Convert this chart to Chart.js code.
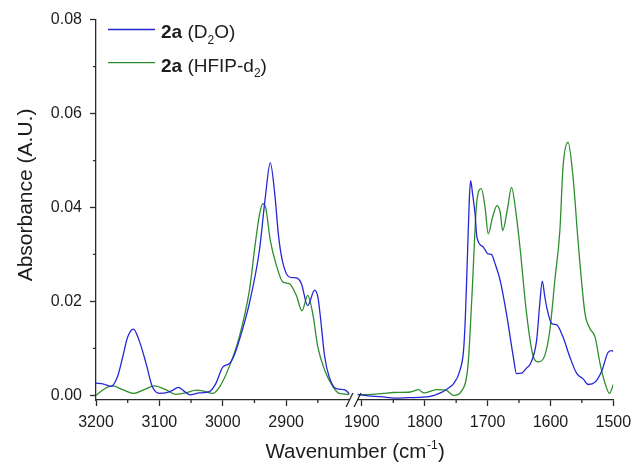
<!DOCTYPE html>
<html>
<head>
<meta charset="utf-8">
<script src="https://cdn.jsdelivr.net/npm/chart.js@4.4.1/dist/chart.umd.min.js"></script>
<style>
  html, body { margin: 0; padding: 0; background: #ffffff; }
  #wrap { width: 634px; height: 466px; }
</style>
</head>
<body>
<div id="wrap"><canvas id="spectrum" width="634" height="466"></canvas></div>
<script>
// IR absorbance of 2a in two solvents, shown over two wavenumber windows (cm-1).
// C–H stretch window, 3200–2800 cm-1
const hiWnD2O  = [3200, 3188, 3176, 3166, 3158, 3150, 3141, 3132, 3121, 3111, 3100, 3090, 3080, 3070, 3062, 3052, 3037, 3021, 3011, 3000, 2990, 2982, 2974, 2958, 2942, 2933, 2925, 2918, 2912, 2906, 2895, 2884, 2876, 2866, 2855, 2850, 2847, 2839, 2832, 2821, 2808, 2800];
const hiAbsD2O = [0.0026, 0.0024, 0.0019, 0.0040, 0.0081, 0.0124, 0.0141, 0.0117, 0.0068, 0.0018, 0.0004, 0.0005, 0.0010, 0.0017, 0.0010, 0.0001, 0.0005, 0.0008, 0.0025, 0.0060, 0.0067, 0.0085, 0.0117, 0.0196, 0.0310, 0.0420, 0.0495, 0.0430, 0.0340, 0.0287, 0.0252, 0.0250, 0.0238, 0.0191, 0.0224, 0.0210, 0.0180, 0.0081, 0.0039, 0.0014, 0.0012, 0.0003];
const hiWnHFIP  = [3200, 3185, 3174, 3158, 3140, 3124, 3108, 3090, 3074, 3058, 3042, 3030, 3016, 3005, 2990, 2974, 2958, 2948, 2942, 2937, 2932, 2925, 2916, 2905, 2895, 2884, 2875, 2866, 2858, 2850, 2839, 2826, 2816, 2800];
const hiAbsHFIP = [0.0000, 0.0015, 0.0020, 0.0012, 0.0004, 0.0012, 0.0020, 0.0012, 0.0002, 0.0005, 0.0011, 0.0009, 0.0004, 0.0018, 0.0060, 0.0124, 0.0223, 0.0330, 0.0385, 0.0408, 0.0398, 0.0330, 0.0280, 0.0241, 0.0238, 0.0213, 0.0180, 0.0213, 0.0174, 0.0103, 0.0053, 0.0018, 0.0004, 0.0002];

// Carbonyl / amide window, 1907–1500 cm-1
const loWnD2O  = [1907, 1890, 1870, 1847, 1825, 1802, 1785, 1775, 1765, 1754, 1744, 1738, 1735, 1732, 1729, 1727, 1724, 1720, 1717, 1707, 1699, 1694, 1688, 1680, 1670, 1659, 1654, 1646, 1638, 1632, 1622, 1617, 1613, 1609, 1606, 1598, 1590, 1580, 1569, 1558, 1548, 1540, 1529, 1518, 1508, 1502, 1500];
const loAbsD2O = [0.0002, -0.0001, -0.0003, -0.0006, -0.0005, -0.0004, 0.0000, 0.0005, 0.0013, 0.0025, 0.0053, 0.0100, 0.0180, 0.0300, 0.0420, 0.0457, 0.0430, 0.0387, 0.0337, 0.0316, 0.0301, 0.0300, 0.0280, 0.0245, 0.0174, 0.0081, 0.0046, 0.0047, 0.0058, 0.0067, 0.0117, 0.0195, 0.0243, 0.0210, 0.0188, 0.0153, 0.0150, 0.0124, 0.0081, 0.0046, 0.0035, 0.0023, 0.0028, 0.0053, 0.0092, 0.0095, 0.0093];
const loWnHFIP  = [1907, 1885, 1866, 1850, 1823, 1810, 1802, 1781, 1765, 1754, 1741, 1731, 1725, 1717, 1710, 1704, 1699, 1692, 1685, 1680, 1676, 1668, 1662, 1654, 1648, 1638, 1627, 1619, 1609, 1601, 1593, 1585, 1580, 1572, 1564, 1557, 1553, 1545, 1537, 1529, 1521, 1513, 1506, 1500];
const loAbsHFIP = [0.0001, 0.0002, 0.0004, 0.0006, 0.0007, 0.0012, 0.0005, 0.0012, 0.0010, 0.0000, 0.0010, 0.0067, 0.0209, 0.0415, 0.0440, 0.0400, 0.0344, 0.0380, 0.0404, 0.0390, 0.0351, 0.0400, 0.0443, 0.0380, 0.0309, 0.0174, 0.0081, 0.0071, 0.0085, 0.0138, 0.0245, 0.0351, 0.0486, 0.0539, 0.0464, 0.0344, 0.0280, 0.0174, 0.0142, 0.0124, 0.0067, 0.0025, 0.0004, 0.0023];

// Axis ticks
const yTickValues   = [0, 0.02, 0.04, 0.06, 0.08];
const yMinorValues  = [0.01, 0.03, 0.05, 0.07];
const hiTickValues  = [3200, 3100, 3000, 2900];
const hiMinorValues = [3150, 3050, 2950, 2850];
const loTickValues  = [1900, 1800, 1700, 1600, 1500];
const loMinorValues = [1850, 1750, 1650, 1550];

// Legend entries as text runs (bold compound number, subscripted isotopes)
const legendD2O  = [{ t: '2a', bold: true }, { t: ' (D' }, { t: '2', sub: true }, { t: 'O)' }];
const legendHFIP = [{ t: '2a', bold: true }, { t: ' (HFIP-d' }, { t: '2', sub: true }, { t: ')' }];

const xTitle = 'Wavenumber (cm';
const xTitleSup = '-1';
const yTitle = 'Absorbance (A.U.)';

const BLUE = '#2626d6';
const GREEN = '#2e8e2e';
const AXIS = '#2b2b2b';
const TEXT = '#1c1c1c';
const FONT = '"Liberation Sans", Arial, Helvetica, sans-serif';

const toPoints = (wn, abs) => wn.map((w, i) => ({ x: w, y: abs[i] }));

function lineSet(label, wn, abs, color, axisId) {
  return {
    label: label,
    data: toPoints(wn, abs),
    xAxisID: axisId,
    yAxisID: 'y',
    borderColor: color,
    backgroundColor: color,
    borderWidth: 1.3,
    pointRadius: 0,
    fill: false,
    cubicInterpolationMode: 'monotone'
  };
}

function drawRuns(ctx, runs, x, y, size) {
  let cx = x;
  for (const r of runs) {
    const s = r.sub ? Math.round(size * 0.62) : size;
    ctx.font = (r.bold ? 'bold ' : '') + s + 'px ' + FONT;
    ctx.fillText(r.t, cx, r.sub ? y + size * 0.28 : y);
    cx += ctx.measureText(r.t).width;
  }
}

const decorations = {
  id: 'decorations',
  afterDraw(chart) {
    const ctx = chart.ctx;
    const sy = chart.scales.y, sh = chart.scales.xHi, sl = chart.scales.xLo;
    const area = chart.chartArea;
    ctx.save();
    ctx.strokeStyle = AXIS;
    ctx.lineWidth = 1.3;

    // minor tick marks
    ctx.beginPath();
    for (const v of yMinorValues) {
      const p = sy.getPixelForValue(v);
      ctx.moveTo(area.left - 3, p); ctx.lineTo(area.left, p);
    }
    for (const v of hiMinorValues) {
      const p = sh.getPixelForValue(v);
      ctx.moveTo(p, area.bottom); ctx.lineTo(p, area.bottom + 3);
    }
    for (const v of loMinorValues) {
      const p = sl.getPixelForValue(v);
      ctx.moveTo(p, area.bottom); ctx.lineTo(p, area.bottom + 3);
    }
    ctx.stroke();

    // axis break marks
    ctx.beginPath();
    for (const bx of [sh.right, sl.left]) {
      ctx.moveTo(bx - 3.4, area.bottom + 7);
      ctx.lineTo(bx + 3.4, area.bottom - 7);
    }
    ctx.stroke();

    // axis titles
    ctx.fillStyle = TEXT;
    ctx.textBaseline = 'alphabetic';
    ctx.font = '20.5px ' + FONT;
    const mainW = ctx.measureText(xTitle).width;
    ctx.font = '12px ' + FONT;
    const supW = ctx.measureText(xTitleSup).width;
    ctx.font = '20.5px ' + FONT;
    const closeW = ctx.measureText(')').width;
    let tx = (area.left + area.right) / 2 - (mainW + supW + closeW) / 2;
    const ty = 458;
    ctx.textAlign = 'left';
    ctx.fillText(xTitle, tx, ty);
    ctx.font = '12px ' + FONT;
    ctx.fillText(xTitleSup, tx + mainW + 0.5, ty - 9);
    ctx.font = '20.5px ' + FONT;
    ctx.fillText(')', tx + mainW + supW + 1, ty);

    ctx.save();
    ctx.translate(31.5, 195);
    ctx.rotate(-Math.PI / 2);
    ctx.textAlign = 'center';
    ctx.font = '21px ' + FONT;
    ctx.fillText(yTitle, 0, 0);
    ctx.restore();

    // legend
    const entries = [[legendD2O, BLUE], [legendHFIP, GREEN]];
    entries.forEach(([runs, color], i) => {
      const ly = 29.5 + i * 33.2;
      ctx.strokeStyle = color;
      ctx.lineWidth = 1.3;
      ctx.beginPath();
      ctx.moveTo(108, ly); ctx.lineTo(155, ly);
      ctx.stroke();
      ctx.fillStyle = TEXT;
      ctx.textAlign = 'left';
      drawRuns(ctx, runs, 161, ly + 8.8, 19);
    });
    ctx.restore();
  }
};

const tickFont = { family: FONT, size: 16 };
const majorGrid = { drawOnChartArea: false, drawTicks: true, tickLength: 6, tickWidth: 1.3, tickColor: AXIS, color: AXIS };

// bottom axes: fixed height, edge label overhang handled by the layout padding
const fitBottom = s => { s.height = 66; s.paddingLeft = 0; s.paddingRight = 0; };

const ctx = document.getElementById('spectrum').getContext('2d');
new Chart(ctx, {
  type: 'line',
  data: {
    datasets: [
      lineSet('2a (D2O)', hiWnD2O, hiAbsD2O, BLUE, 'xHi'),
      lineSet('2a (D2O)', loWnD2O, loAbsD2O, BLUE, 'xLo'),
      lineSet('2a (HFIP-d2)', hiWnHFIP, hiAbsHFIP, GREEN, 'xHi'),
      lineSet('2a (HFIP-d2)', loWnHFIP, loAbsHFIP, GREEN, 'xLo')
    ]
  },
  options: {
    responsive: false,
    animation: false,
    devicePixelRatio: 1,
    layout: { padding: { top: 19.7, right: 20.7, bottom: 0, left: 0 } },
    plugins: { legend: { display: false }, tooltip: { enabled: false } },
    scales: {
      y: {
        type: 'linear',
        position: 'left',
        min: -0.001,
        max: 0.08,
        afterBuildTicks: s => { s.ticks = yTickValues.map(v => ({ value: v })); },
        afterFit: s => { s.width = 96; s.paddingTop = 0; s.paddingBottom = 0; },
        ticks: { font: tickFont, color: TEXT, padding: 8, callback: v => Number(v).toFixed(2) },
        grid: majorGrid,
        border: { display: true, color: AXIS, width: 1.3 }
      },
      xHi: {
        type: 'linear',
        axis: 'x',
        position: 'bottom',
        stack: 'wavenumber',
        stackWeight: 253.5,
        reverse: true,
        min: 2800,
        max: 3200,
        afterBuildTicks: s => { s.ticks = hiTickValues.map(v => ({ value: v })); },
        afterFit: fitBottom,
        ticks: { font: tickFont, color: TEXT, padding: 7, maxRotation: 0, autoSkip: false, callback: v => String(v) },
        grid: majorGrid,
        border: { display: true, color: AXIS, width: 1.3 }
      },
      xGap: {
        type: 'linear',
        axis: 'x',
        position: 'bottom',
        stack: 'wavenumber',
        stackWeight: 8,
        min: 0,
        max: 1,
        afterBuildTicks: s => { s.ticks = []; },
        afterFit: fitBottom,
        ticks: { display: false },
        grid: { display: false },
        border: { display: false }
      },
      xLo: {
        type: 'linear',
        axis: 'x',
        position: 'bottom',
        stack: 'wavenumber',
        stackWeight: 255.8,
        reverse: true,
        min: 1500,
        max: 1907,
        afterBuildTicks: s => { s.ticks = loTickValues.map(v => ({ value: v })); },
        afterFit: fitBottom,
        ticks: { font: tickFont, color: TEXT, padding: 7, maxRotation: 0, autoSkip: false, callback: v => String(v) },
        grid: majorGrid,
        border: { display: true, color: AXIS, width: 1.3 }
      }
    }
  },
  plugins: [decorations]
});
</script>
</body>
</html>
